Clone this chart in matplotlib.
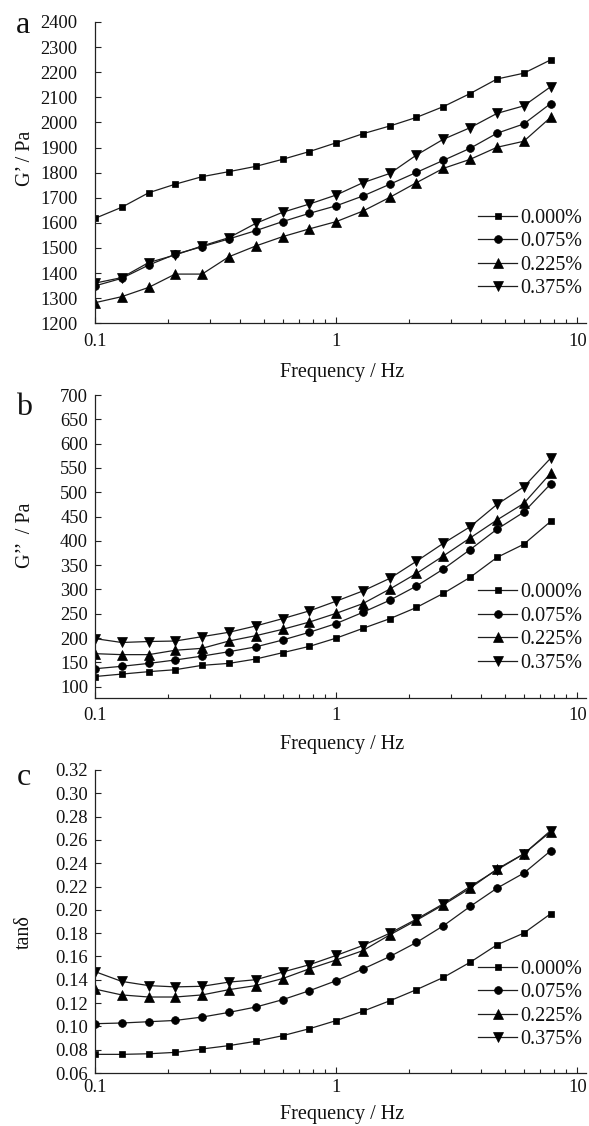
import matplotlib
matplotlib.use("Agg")
import matplotlib.pyplot as plt
from matplotlib.ticker import LogLocator, FixedLocator, NullFormatter, FixedFormatter

plt.rcParams['font.family'] = ['Liberation Serif', 'DejaVu Serif']
plt.rcParams['mathtext.fontset'] = 'stix'

# ---------------- data ----------------
freq = [0.1, 0.129, 0.167, 0.215, 0.278, 0.359, 0.464, 0.599, 0.774,
        1.0, 1.29, 1.67, 2.15, 2.78, 3.59, 4.64, 5.99, 7.74]
labels = ["0.000%", "0.075%", "0.225%", "0.375%"]

g1_000 = [1618, 1662, 1720, 1754, 1784, 1804, 1825, 1853, 1884, 1919, 1955, 1986, 2020, 2063, 2115, 2173, 2196, 2249]
g1_075 = [1349, 1379, 1432, 1475, 1505, 1536, 1569, 1605, 1638, 1668, 1707, 1754, 1801, 1849, 1897, 1957, 1994, 2075]
g1_225 = [1282, 1306, 1343, 1396, 1396, 1465, 1508, 1545, 1576, 1605, 1647, 1702, 1760, 1817, 1853, 1901, 1925, 2020]
g1_375 = [1360, 1382, 1442, 1472, 1508, 1541, 1598, 1642, 1675, 1711, 1760, 1797, 1870, 1933, 1979, 2036, 2066, 2142]

g2_000 = [121, 126, 131, 135, 144, 148, 157, 170, 183, 200, 220, 240, 263, 292, 325, 366, 393, 440]
g2_075 = [137, 142, 148, 155, 163, 172, 182, 196, 212, 230, 253, 278, 307, 342, 382, 424, 459, 517]
g2_225 = [168, 166, 166, 175, 179, 194, 205, 218, 233, 251, 271, 301, 333, 369, 406, 443, 477, 539]
g2_375 = [199, 191, 193, 194, 203, 212, 225, 240, 256, 276, 297, 323, 358, 395, 429, 475, 511, 570]

t_000 = [0.076, 0.076, 0.0765, 0.0777, 0.0806, 0.0835, 0.0872, 0.092, 0.098, 0.105, 0.113, 0.122, 0.1315, 0.142, 0.155, 0.170, 0.180, 0.1966]
t_075 = [0.1023, 0.1029, 0.104, 0.1051, 0.108, 0.112, 0.1166, 0.1229, 0.1306, 0.1392, 0.1492, 0.160, 0.172, 0.1863, 0.2029, 0.2186, 0.2315, 0.2506]
t_225 = [0.132, 0.127, 0.1252, 0.1252, 0.127, 0.1315, 0.135, 0.141, 0.1494, 0.157, 0.165, 0.1786, 0.191, 0.2043, 0.2186, 0.235, 0.248, 0.267]
t_375 = [0.147, 0.1386, 0.135, 0.1339, 0.1344, 0.138, 0.140, 0.1466, 0.1529, 0.1609, 0.1694, 0.180, 0.192, 0.2052, 0.220, 0.2343, 0.248, 0.268]

a_ticks = [1200, 1300, 1400, 1500, 1600, 1700, 1800, 1900, 2000, 2100, 2200, 2300, 2400]
b_ticks = [100, 150, 200, 250, 300, 350, 400, 450, 500, 550, 600, 650, 700]
c_ticks = [0.06, 0.08, 0.10, 0.12, 0.14, 0.16, 0.18, 0.20, 0.22, 0.24, 0.26, 0.28, 0.30, 0.32]
c_ticklabels = ["0.06", "0.08", "0.10", "0.12", "0.14", "0.16", "0.18", "0.20",
                "0.22", "0.24", "0.26", "0.28", "0.30", "0.32"]
x_ticks = [0.1, 1, 10]
x_ticklabels = ["0.1", "1", "10"]

# ---------------- figure ----------------
W, H = 589, 1126
fig = plt.figure(figsize=(W / 100, H / 100), dpi=100)

def px_rect(left, top, right, bottom):
    return [left / W, 1 - bottom / H, (right - left) / W, (bottom - top) / H]

markers = ['s', 'o', '^', 'v']
msizes = [5.0, 5.6, 6.6, 6.6]
lc = '#1e1e1e'

panels = [
    dict(rect=px_rect(95, 22, 586, 323.3), ylim=(1200, 2400), ticks=a_ticks, tl=[str(t) for t in a_ticks],
         data=[g1_000, g1_075, g1_225, g1_375], ypad=12.5, xpad=7.0,
         ylabel="G’ / Pa", ylab_xy=(25, 158), xlab_y=372, letter="a", let_xy=(23, 33), leg_top=208.5),
    dict(rect=px_rect(95, 395, 586, 698.4), ylim=(76, 700), ticks=b_ticks, tl=[str(t) for t in b_ticks],
         data=[g2_000, g2_075, g2_225, g2_375], ypad=5.0, xpad=6.0,
         ylabel="G’’  / Pa", ylab_xy=(25, 535), xlab_y=744, letter="b", let_xy=(24, 415), leg_top=583),
    dict(rect=px_rect(95, 770, 586, 1073), ylim=(0.06, 0.32), ticks=c_ticks, tl=c_ticklabels,
         data=[t_000, t_075, t_225, t_375], ypad=5.0, xpad=4.5,
         ylabel="tanδ", ylab_xy=(24, 932), xlab_y=1114, letter="c", let_xy=(24, 785), leg_top=959.5),
]

for p in panels:
    ax = fig.add_axes(p['rect'])
    for series, m, ms, lab in zip(p['data'], markers, msizes, labels):
        ax.plot(freq, series, color=lc, lw=0.9, marker=m, markersize=ms,
                markerfacecolor='black', markeredgecolor='black', markeredgewidth=0.5, label=lab)
    ax.set_xscale('log')
    ax.set_xlim(0.1, 10.85)
    ax.set_ylim(*p['ylim'])
    ax.xaxis.set_major_locator(FixedLocator(x_ticks))
    ax.xaxis.set_major_formatter(FixedFormatter(x_ticklabels))
    ax.xaxis.set_minor_locator(LogLocator(base=10, subs=[2, 3, 4, 5, 6, 7, 8, 9], numticks=20))
    ax.xaxis.set_minor_formatter(NullFormatter())
    ax.yaxis.set_major_locator(FixedLocator(p['ticks']))
    ax.yaxis.set_major_formatter(FixedFormatter(p['tl']))
    for s in ['top', 'right']:
        ax.spines[s].set_visible(False)
    for s in ['left', 'bottom']:
        ax.spines[s].set_linewidth(0.9)
        ax.spines[s].set_color('#222222')
    ax.tick_params(axis='both', which='major', direction='in', length=4.5, width=0.8,
                   labelsize=13.3, colors='#222222', labelcolor='#111111')
    ax.tick_params(axis='x', which='minor', direction='in', length=3, width=0.8, colors='#222222')
    ax.tick_params(axis='y', which='major', pad=p['ypad'])
    ax.tick_params(axis='x', which='major', pad=p['xpad'])
    ax.set_facecolor('none')

    leg = ax.legend(loc='upper left', bbox_to_anchor=(478 / W, 1 - p['leg_top'] / H),
                    bbox_transform=fig.transFigure, frameon=False, fontsize=14.5,
                    handlelength=1.95, handletextpad=0.15, labelspacing=0.22,
                    borderpad=0, borderaxespad=0)
    for t in leg.get_texts():
        t.set_color('#111111')

    fig.text(p['ylab_xy'][0] / W, 1 - p['ylab_xy'][1] / H, p['ylabel'], rotation=90,
             ha='center', va='center', fontsize=14.5, color='#111111')
    fig.text(342 / W, 1 - p['xlab_y'] / H, "Frequency / Hz", ha='center', va='center',
             fontsize=14.5, color='#111111')
    fig.text(p['let_xy'][0] / W, 1 - p['let_xy'][1] / H, p['letter'], ha='center', va='baseline',
             fontsize=23, color='#111111')

fig.savefig("out.png", dpi=100, facecolor='white')
